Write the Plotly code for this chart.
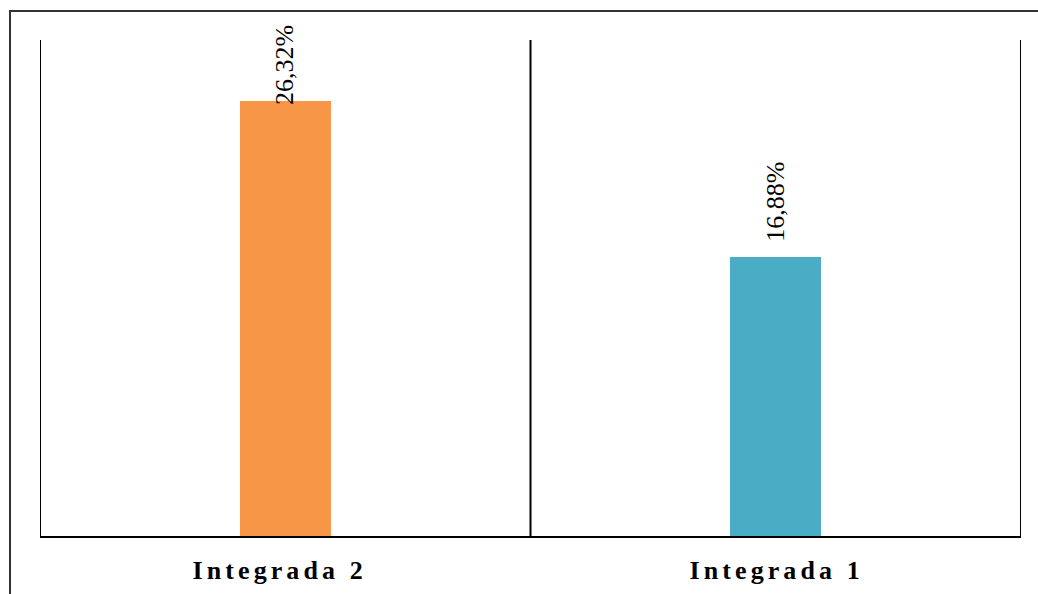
import json
import plotly.graph_objects as go

categories = ["Integrada 2", "Integrada 1"]
values = [26.32, 16.88]
value_labels = ["26,32%", "16,88%"]
bar_colors = ["#F79646", "#4BACC6"]
label_shifts = [-6, 13]
cat_label_xshifts = [-6, 1]

W, H = 1038, 594
L, R, T, B = 40, 17, 40, 58
pw, ph = W - L - R, H - T - B

fig = go.Figure()
fig.add_trace(go.Bar(
    x=categories, y=values, marker=dict(color=bar_colors, line=dict(width=0)),
    width=0.186, hoverinfo="skip",
))

for c, v, t, s in zip(categories, values, value_labels, label_shifts):
    fig.add_annotation(x=c, y=v, text=t, textangle=-90, showarrow=False,
                       xanchor="center", yanchor="bottom", yshift=s,
                       font=dict(family="Liberation Serif", size=26, color="black"))

for c, xs in zip(categories, cat_label_xshifts):
    fig.add_annotation(x=c, y=0, yref="paper", text=c, showarrow=False,
                       xanchor="center", yanchor="top", yshift=-18, xshift=xs,
                       font=dict(family="Liberation Serif", size=26, color="black",
                                 weight="bold"))

shapes = []
for i in range(len(categories) + 1):
    shapes.append(dict(type="line", xref="x", yref="y domain", x0=i - 0.5, x1=i - 0.5,
                       y0=0, y1=1, line=dict(color="black", width=2)))
# outer frame
shapes.append(dict(type="rect", xref="paper", yref="paper",
                   x0=(10 - L) / pw, x1=(W + 20 - L) / pw,
                   y0=-(H + 20 - T - ph) / ph, y1=(T + ph - 11) / ph,
                   line=dict(color="#333333", width=2), layer="below"))
fig.update_layout(shapes=shapes)

fig.update_xaxes(range=[-0.5, len(categories) - 0.5], showline=True, linecolor="black",
                 linewidth=2, ticks="", showgrid=False, showticklabels=False)
fig.update_yaxes(range=[0, 30], showline=False, showgrid=False, zeroline=False,
                 showticklabels=False, ticks="")

fig.update_layout(width=W, height=H, margin=dict(l=L, r=R, t=T, b=B, pad=0),
                  plot_bgcolor="white", paper_bgcolor="white", showlegend=False,
                  bargap=0)

post = """
document.body.style.margin='0';
var cats=%s;
function ls(){document.querySelectorAll('.annotation-text').forEach(function(t){
  if(cats.indexOf(t.textContent)>=0){t.style.letterSpacing='4.1px';}});}
ls();
var gd=document.getElementsByClassName('plotly-graph-div')[0];
if(gd&&gd.on){gd.on('plotly_afterplot', ls);}
""" % json.dumps(categories)
fig.write_html("out.html", post_script=post, config={"displayModeBar": False})
